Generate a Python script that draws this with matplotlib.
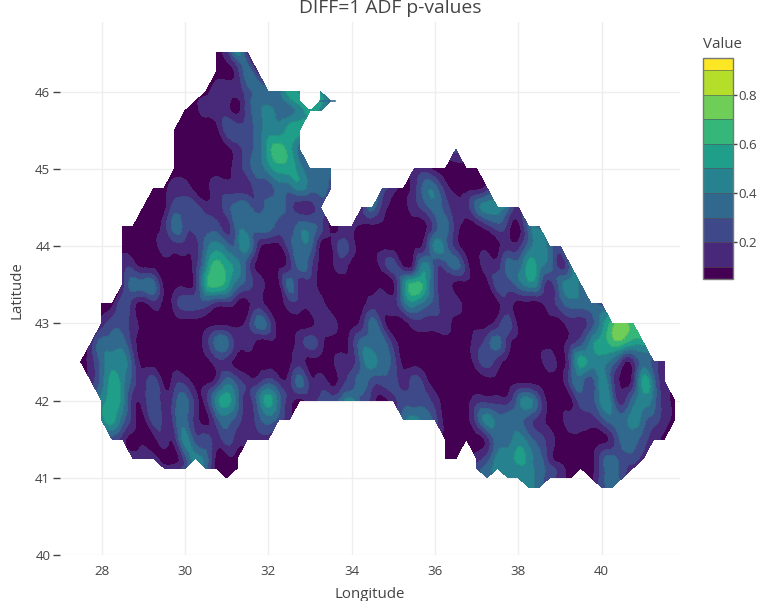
import numpy as np
import matplotlib
matplotlib.use('Agg')
import matplotlib.pyplot as plt
import matplotlib.tri as mtri

plt.rcParams['font.family'] = ['Open Sans', 'DejaVu Sans']

# grid of the map: lon = 27.5 + 0.25*col, one entry per latitude row
lon = np.arange(27.5, 41.76, 0.25)
lat = [46.5, 46.25, 46.0, 45.875, 45.75, 45.5, 45.25, 45.0, 44.75, 44.5, 44.25, 44.0,
       43.75, 43.5, 43.25, 43.0, 42.75, 42.5, 42.25, 42.0, 41.75, 41.5, 41.25, 41.125,
       41.0, 40.875]

# each digit is the colour band at that node, (first col, digits)
rows = [
    [(13, "0141")],
    [(13, "00131")],
    [(12, "0111233354"), (23, "4")],
    [(11, "01110233345"), (23, "53")],
    [(10, "00111023433454")],
    [(9, "0000022234455")],
    [(9, "0000001235653"), (36, "2")],
    [(9, "0000001234554333"), (32, "1100000")],
    [(7, "001100111122334332"), (29, "21013310001")],
    [(6, "000222112332332112"), (27, "1310012321134431")],
    [(4, "00001322221333322332011" + "0000000" + "23100121033")],
    [(4, "00001111" + "34334" + "1" + "00" + "233" + "00" + "21" + "000000" + "143" + "1" + "0000" + "11" + "3432")],
    [(4, "11" + "00000" + "1" + "4654" + "2" + "000" + "132" + "00" + "1" + "000" + "12" + "0" + "1" + "4" + "223" + "1" + "0" + "11" + "33" + "5431" + "3")],
    [(4, "1333" + "000" + "1" + "5653" + "21" + "00" + "311" + "00000000" + "4652" + "1" + "0000" + "223" + "431" + "343")],
    [(2, "0021010122211001001111000011134321100001000123332")],
    [(2, "1221000000000013200001100131001111000012000001124676")],
    [(1, "13331" + "000000" + "1331" + "1" + "0000" + "121001" + "333" + "1" + "0000000" + "1231" + "00000" + "12456655")],
    [(0, "013442000000011000000100011343200000001210000102544311321")],
    [(1, "13542" + "1" + "2" + "0" + "11" + "00" + "1321" + "1211" + "31" + "10" + "123" + "222" + "121" + "0000000000000" + "23242" + "0" + "1531")],
    [(2, "454112123" + "11453135310122342101222100011113420002243134310")],
    [(2, "4531021231023212321"), (31, "343200024333210011123343210")],
    [(3, "2100011422121111"), (35, "0000133432100000133210")],
    [(5, "11100243000"), (35, "00"), (38, "12445431000023221")],
    [(8, "112"), (12, "3000"), (38, "2344443210002321")],
    [(14, "0"), (39, "3"), (41, "4443210"), (49, "0232")],
    [(43, "43"), (50, "23")],
]

# thin spit on the north east coast
spit_lon = [33.25, 33.6]
spit_lat = [45.875, 45.875]

levels = [0.05, 0.1, 0.2, 0.3, 0.4, 0.5, 0.6, 0.7, 0.8, 0.9, 0.95]
colors = ['#440154', '#482878', '#3e4989', '#31688e', '#26828e', '#1f9e89',
          '#35b779', '#6ece58', '#b5de2b', '#fde725']
cbar_ticks = [0.2, 0.4, 0.6, 0.8]
lon_ticks = [28, 30, 32, 34, 36, 38, 40]
lat_ticks = [40, 41, 42, 43, 44, 45, 46]

z = np.full((len(lat), len(lon)), np.nan)
for i, segs in enumerate(rows):
    for start, digits in segs:
        for j, d in enumerate(digits):
            z[i, start + j] = 0.06 if d == '0' else int(d) / 10 + 0.05

# triangles over the valid nodes, so the outline stays what the grid gives
idx = -np.ones(z.shape, dtype=int)
valid = ~np.isnan(z)
idx[valid] = np.arange(valid.sum())
lon2, lat2 = np.meshgrid(lon, lat)
tris = []
for i in range(z.shape[0] - 1):
    for j in range(z.shape[1] - 1):
        a, b, c, d = idx[i, j], idx[i, j + 1], idx[i + 1, j + 1], idx[i + 1, j]
        n = sum(v >= 0 for v in (a, b, c, d))
        if n == 4:
            tris += [[a, b, c], [a, c, d]]
        elif n == 3:
            tris.append([v for v in (a, b, c, d) if v >= 0])
tri = mtri.Triangulation(lon2[valid], lat2[valid], np.array(tris))
refiner = mtri.UniformTriRefiner(tri)
fine_tri, fine_z = refiner.refine_field(z[valid], subdiv=2)
fine_z = np.clip(fine_z, 0.055, 0.945)

W, H = 779, 601
fig = plt.figure(figsize=(W / 100, H / 100), dpi=100)
ax = fig.add_axes([60 / W, 1 - 555 / H, 620 / W, 533 / H])

cs = ax.tricontourf(fine_tri, fine_z, levels=levels, colors=colors, zorder=2)
ax.tricontour(fine_tri, fine_z, levels=levels, colors='#444444', linewidths=0.3, alpha=0.3, zorder=3)
ax.plot(spit_lon, spit_lat, color=colors[3], lw=1.2, zorder=3)

ax.set_xlim(27.0, 41.88)
ax.set_ylim(40.0, 46.9)
ax.set_xticks(lon_ticks)
ax.set_yticks(lat_ticks)
ax.grid(True, color='#eeeeee', lw=1, zorder=0)
ax.set_axisbelow(True)
for s in ax.spines.values():
    s.set_visible(False)
ax.tick_params(axis='x', length=0, pad=7, labelsize=9.6, labelcolor='#444444')
ax.tick_params(axis='y', length=5, width=1, color='#444444', pad=2, labelsize=9.6, labelcolor='#444444')

fig.text(370 / W, 1 - 595 / H, 'Longitude', ha='center', va='center', fontsize=10.8, color='#444444')
fig.text(17 / W, 1 - 290 / H, 'Latitude', ha='center', va='center', rotation=90, fontsize=10.8, color='#444444')
fig.text(390 / W, 1 - 8 / H, 'DIFF=1 ADF p-values', ha='center', va='center', fontsize=13.9, color='#444444')
fig.text(703 / W, 1 - 44 / H, 'Value', ha='left', va='center', fontsize=10.8, color='#444444')

cax = fig.add_axes([703 / W, 1 - 279 / H, 30 / W, 221 / H])
cb = fig.colorbar(cs, cax=cax, spacing='proportional', ticks=cbar_ticks, drawedges=True)
cb.ax.set_yticklabels(['0.2', '0.4', '0.6', '0.8'])
cb.ax.tick_params(length=3, width=1, color='#444444', pad=1, labelsize=9.6, labelcolor='#444444')
cb.outline.set_edgecolor('#777777')
cb.outline.set_linewidth(1)
cb.dividers.set_color('#555555')
cb.dividers.set_linewidth(0.4)

fig.savefig('out.png', dpi=100)
